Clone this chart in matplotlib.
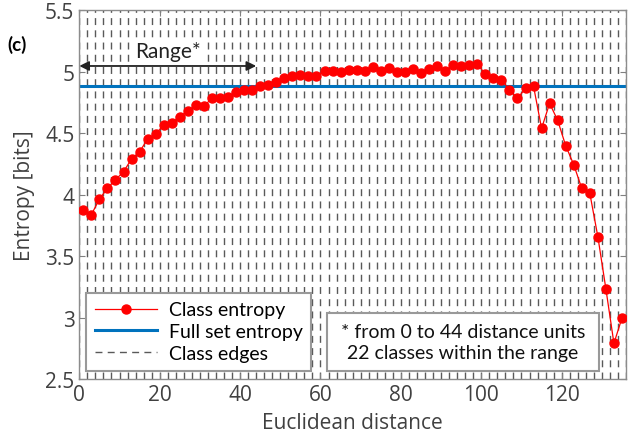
import matplotlib.pyplot as plt
import numpy as np
from matplotlib.patches import Rectangle

# class entropy, one value per 2-unit distance class (centres 1, 3, ..., 135)
class_entropy = [3.874, 3.836, 3.963, 4.05, 4.12, 4.185, 4.29, 4.348, 4.451, 4.492,
                 4.565, 4.581, 4.634, 4.679, 4.728, 4.72, 4.782, 4.782, 4.79, 4.831,
                 4.852, 4.852, 4.882, 4.894, 4.917, 4.947, 4.966, 4.974, 4.966, 4.966,
                 5.002, 5.002, 4.993, 5.015, 5.015, 5.007, 5.034, 5.004, 5.028, 4.993,
                 4.998, 5.02, 4.985, 5.02, 5.047, 5.007, 5.053, 5.047, 5.053, 5.059,
                 4.98, 4.95, 4.933, 4.852, 4.782, 4.863, 4.88, 4.538, 4.741, 4.603,
                 4.397, 4.242, 4.05, 4.01, 3.657, 3.232, 2.79, 2.996]
class_width = 2
full_set_entropy = 4.88
range_end = 44
x_ticks = [0, 20, 40, 60, 80, 100, 120]
y_ticks = [2.5, 3, 3.5, 4, 4.5, 5, 5.5]

n = len(class_entropy)
centres = class_width * np.arange(n) + class_width / 2
edges = class_width * np.arange(n + 1)

tick_font = 'Open Sans'
box_font = 'Lato'

fig = plt.figure(figsize=(6.32, 4.39), dpi=100)
ax = fig.add_axes([0.1255, 0.1344, 0.865, 0.8405])

for i, e in enumerate(edges):
    ax.axvline(e, color='0.35', lw=1.0, dashes=(5, 3.8), zorder=1,
               label='Class edges' if i == 1 else None)
ax.axhline(full_set_entropy, color='#0072BD', lw=2.2, zorder=2, label='Full set entropy')
ax.plot(centres, class_entropy, '-o', color='red', lw=0.9, ms=6.5, zorder=3,
        label='Class entropy')

ax.set_xlim(0, edges[-1])
ax.set_ylim(2.5, 5.5)
ax.set_xticks(x_ticks)
ax.set_yticks(y_ticks)
ax.set_yticklabels(['%g' % v for v in y_ticks])
ax.tick_params(direction='in', length=4, colors='0.5', labelcolor='#404040',
               labelsize=15, right=True, top=True)
for lab in ax.get_xticklabels() + ax.get_yticklabels():
    lab.set_family(tick_font)
for s in ax.spines.values():
    s.set_color('0.55')
    s.set_linewidth(1.0)

ax.set_xlabel('Euclidean distance', fontsize=15, family=tick_font, color='#404040',
              labelpad=5)
ax.set_ylabel('Entropy [bits]', fontsize=15, family=tick_font, color='#404040',
              labelpad=7)

# range arrow
ax.annotate('', xy=(0, 5.045), xytext=(range_end, 5.045),
            arrowprops=dict(arrowstyle='<|-|>', color='#222222', lw=1.3,
                            mutation_scale=14, shrinkA=0, shrinkB=0), zorder=4)
ax.text(range_end / 2, 5.17, 'Range*', ha='center', va='center', fontsize=15,
        family=box_font, color='#222222', zorder=5,
        bbox=dict(facecolor='white', edgecolor='none', pad=1))

fig.text(0.012, 0.897, '(c)', fontsize=13.5, fontweight='bold', family=box_font,
         va='center', ha='left')

h, l = ax.get_legend_handles_labels()
order = [l.index('Class entropy'), l.index('Full set entropy'), l.index('Class edges')]
leg = ax.legend([h[i] for i in order], [l[i] for i in order], loc='lower left',
                bbox_to_anchor=(0.012, 0.022), borderaxespad=0, fancybox=False,
                framealpha=1, edgecolor='0.6', handlelength=3.2, handletextpad=0.6,
                labelspacing=0.25, borderpad=0.45,
                prop=dict(family=box_font, size=14))
leg.get_frame().set_linewidth(1.5)
leg.set_zorder(6)

ax.add_patch(Rectangle((0.453, 0.022), 0.498, 0.157, transform=ax.transAxes,
                       facecolor='white', edgecolor='0.6', lw=1.5, zorder=6))
ax.text(0.702, 0.1005, '* from 0 to 44 distance units\n22 classes within the range',
        transform=ax.transAxes, ha='center', va='center', fontsize=14,
        family=box_font, linespacing=1.3, zorder=7, color='#111111')

fig.savefig('out.png', dpi=100)
